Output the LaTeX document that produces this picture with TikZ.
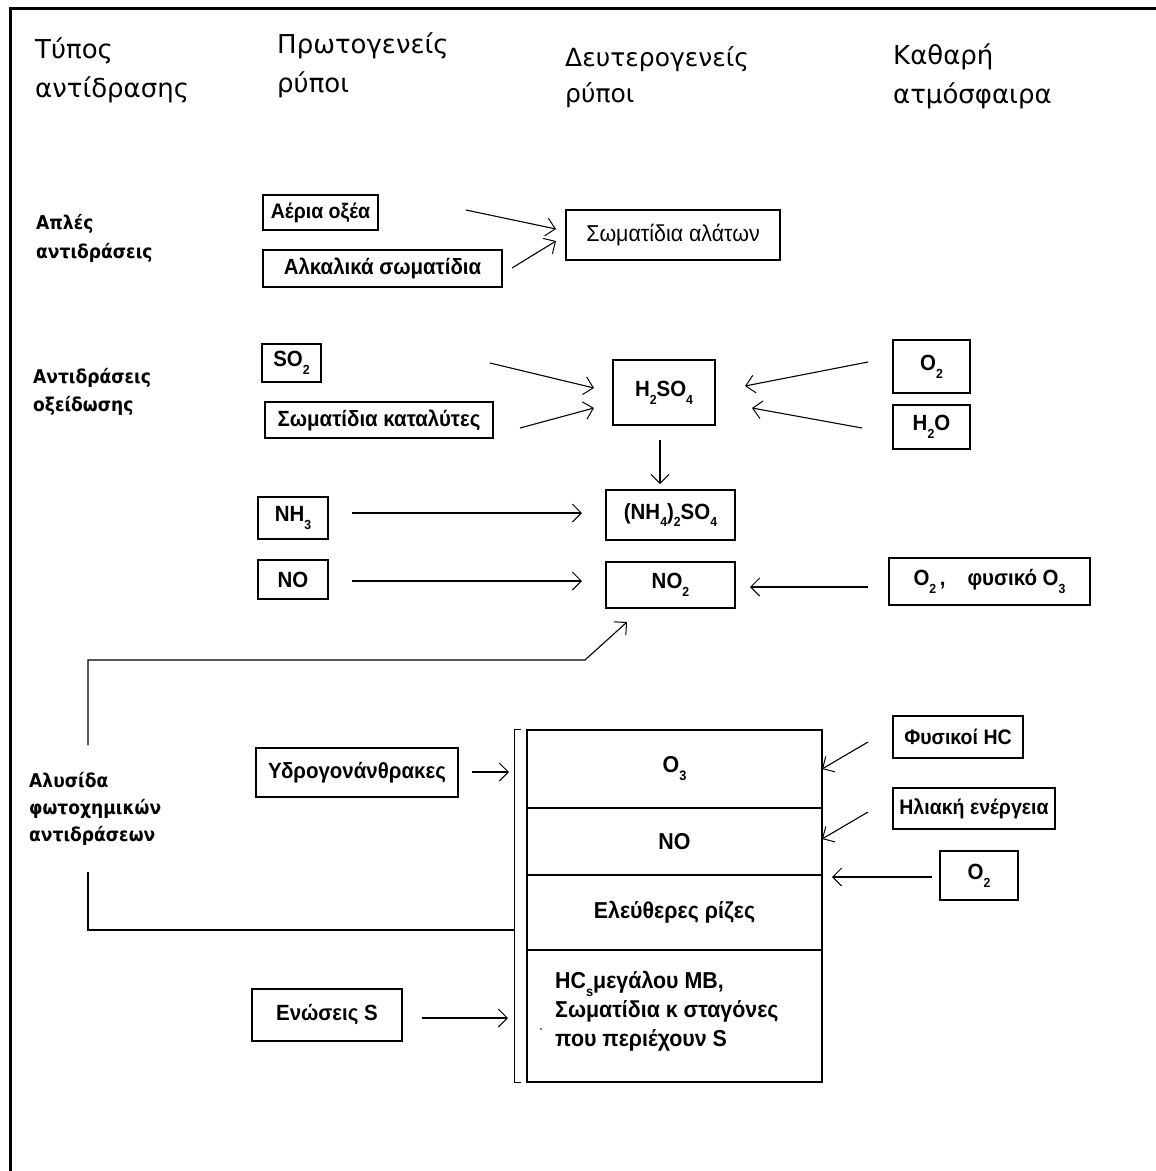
\documentclass[tikz,border=0pt]{standalone}
\usepackage{fontspec}
\usepackage{graphicx}
\usetikzlibrary{arrows.meta}
\setmainfont{Liberation Sans}
\newfontfamily\hdfont{DejaVu Sans}
\newfontfamily\lbfont[FakeStretch=0.9]{DejaVu Sans}
\newfontfamily\bxfont[FakeStretch=0.93]{Liberation Sans}
\newcommand\sbs[1]{\raisebox{-0.35em}{\scalebox{0.6}{#1}}}
\tikzset{
  bxf/.style={font=\bxfont\bfseries\fontsize{22}{29}\selectfont},
  bxs/.style={font=\bxfont\bfseries\fontsize{21}{29}\selectfont},
  cxf/.style={font=\bxfont\bfseries\fontsize{23}{29}\selectfont},
  bx/.style={draw, line width=1.4pt, inner sep=0pt, bxf},
  cell/.style={draw, line width=1.4pt, inner sep=0pt, minimum width=295pt, cxf},
  hd/.style={anchor=base west, align=left, inner sep=0pt, font=\hdfont\fontsize{26}{39}\selectfont},
  lb/.style={anchor=base west, align=left, inner sep=0pt, font=\lbfont\bfseries\fontsize{19}{29}\selectfont},
  arr/.style={line width=1.1pt, -{Straight Barb[length=9pt,width=18pt,line width=1pt]}},
  ln/.style={line width=1.1pt}
}
\begin{document}
\begin{tikzpicture}[x=1pt,y=-1pt]
\useasboundingbox (0,0) rectangle (1156,1171);
% frame
\draw[line width=3pt] (10,1171) -- (10,8) -- (1156,8);
% headers (anchor = baseline of last line)
\node[hd] (h1) at (35,97) {Τύπος\\αντίδρασης};
\node[hd] (h2) at (277,92) {Πρωτογενείς\\ρύποι};
\node[hd, font=\hdfont\fontsize{25}{36}\selectfont] (h3) at (565,102) {Δευτερογενείς\\ρύποι};
\node[hd] (h4) at (893,103) {Καθαρή\\ατμόσφαιρα};
% row labels
\node[lb] (r1) at (36,258) {Απλές\\αντιδράσεις};
\node[lb, font=\lbfont\bfseries\fontsize{19}{28}\selectfont] (r2) at (33,411) {Αντιδράσεις\\οξείδωσης};
\node[lb, font=\lbfont\bfseries\fontsize{19}{27}\selectfont] (r3) at (29,841) {Αλυσίδα\\φωτοχημικών\\αντιδράσεων};
% simple reactions
\node[bx, bxs, minimum width=115pt, minimum height=35pt] (aeria) at (320.5,212.5) {Αέρια οξέα};
\node[bx, minimum width=239pt, minimum height=37pt] (alkal) at (382.5,268.5) {Αλκαλικά σωματίδια};
\node[bx, minimum width=214pt, minimum height=50pt, font=\bxfont\fontsize{23}{29}\selectfont] (alaton) at (673,235) {Σωματίδια αλάτων};
% oxidation
\node[bx, minimum width=59pt, minimum height=38pt] (so2) at (291.5,363) {SO\sbs{2}};
\node[bx, minimum width=228pt, minimum height=36pt] (katal) at (379,420) {Σωματίδια καταλύτες};
\node[bx, minimum width=102pt, minimum height=65pt] (h2so4) at (664,392.5) {H\sbs{2}SO\sbs{4}};
\node[bx, minimum width=77pt, minimum height=53pt] (o2a) at (931.5,366.5) {O\sbs{2}};
\node[bx, minimum width=77pt, minimum height=44pt] (h2o) at (931.5,427) {H\sbs{2}O};
\node[bx, minimum width=70pt, minimum height=42pt] (nh3) at (293,518) {NH\sbs{3}};
\node[bx, minimum width=129pt, minimum height=50pt] (nh4) at (670.5,515) {(NH\sbs{4})\sbs{2}SO\sbs{4}};
\node[bx, minimum width=70pt, minimum height=39pt] (no) at (293,579.5) {NO};
\node[bx, minimum width=129pt, minimum height=46pt] (no2) at (670.5,585) {NO\sbs{2}};
\node[bx, minimum width=201pt, minimum height=47pt] (o2o3) at (989.5,581.5) {O\sbs{2}\,,\quad φυσικό O\sbs{3}};
% photochemical
\node[bx, minimum width=202pt, minimum height=49pt] (hc) at (357,772.5) {Υδρογονάνθρακες};
\node[cell, minimum height=78pt] (c1) at (674.5,769) {O\sbs{3}};
\node[cell, minimum height=67pt] (c2) at (674.5,841.5) {NO};
\node[cell, minimum height=75pt] (c3) at (674.5,912.5) {Ελεύθερες ρίζες};
\node[cell, minimum height=132pt] (c4) at (674.5,1016) {};
\node[anchor=base west, align=left, inner sep=0pt, cxf] (c4t) at (555,1046) {HC\sbs{s}μεγάλου ΜΒ,\\Σωματίδια κ σταγόνες\\που περιέχουν S};
\fill (541,1029) circle (0.8);
\node[bx, bxs, minimum width=130pt, minimum height=42pt] (fhc) at (958,737) {Φυσικοί HC};
\node[bx, bxs, minimum width=162pt, minimum height=41pt] (ilia) at (974,808.5) {Ηλιακή ενέργεια};
\node[bx, minimum width=78pt, minimum height=49pt] (o2b) at (979,875.5) {O\sbs{2}};
\node[bx, minimum width=150pt, minimum height=52pt] (enos) at (327,1015) {Ενώσεις S};
% bracket
\draw[ln] (c1.north west) ++(-5,0) coordinate (bt) -- ++(-7,0) coordinate (bl) -- (bl |- c4.south) -- ++(7,0);
% coordinates for arrow ends
\coordinate (s1) at (466,210); \coordinate (e1) at (556,229);
\coordinate (s2) at (512,268); \coordinate (e2) at (556,241);
\coordinate (s3) at (490,363); \coordinate (e3) at (594,388);
\coordinate (s4) at (520,428); \coordinate (e4) at (594,408);
\coordinate (s5) at (868,362); \coordinate (e5) at (745,386);
\coordinate (s6) at (862,428); \coordinate (e6) at (752,408);
\coordinate (s7) at (660,440); \coordinate (e7) at (660,484);
\coordinate (s8) at (352,513); \coordinate (e8) at (582,513);
\coordinate (s9) at (352,581); \coordinate (e9) at (582,581);
\coordinate (s10) at (868,587); \coordinate (e10) at (750,587);
\coordinate (p1) at (88,745); \coordinate (p2) at (88,660); \coordinate (p3) at (585,660); \coordinate (e11) at (627,622);
\coordinate (q1) at (88,872); \coordinate (q2) at (88,930); \coordinate (q3) at (515,930);
\coordinate (s13) at (472,772); \coordinate (e13) at (509,772);
\coordinate (s14) at (868,742); \coordinate (e14) at (822,769);
\coordinate (s15) at (868,812); \coordinate (e15) at (822,839);
\coordinate (s16) at (932,877); \coordinate (e16) at (832,877);
\coordinate (s17) at (422,1018); \coordinate (e17) at (508,1018);
% arrows
\draw[arr] (s1) -- (e1);
\draw[arr] (s2) -- (e2);
\draw[arr] (s3) -- (e3);
\draw[arr] (s4) -- (e4);
\draw[arr] (s5) -- (e5);
\draw[arr] (s6) -- (e6);
\draw[arr] (s7) -- (e7);
\draw[arr] (s8) -- (e8);
\draw[arr] (s9) -- (e9);
\draw[arr] (s10) -- (e10);
\draw[arr] (p1) -- (p2) -- (p3) -- (e11);
\draw[ln] (q1) -- (q2) -- (q3);
\draw[arr] (s13) -- (e13);
\draw[arr] (s14) -- (e14);
\draw[arr] (s15) -- (e15);
\draw[arr] (s16) -- (e16);
\draw[arr] (s17) -- (e17);
\end{tikzpicture}
\end{document}
